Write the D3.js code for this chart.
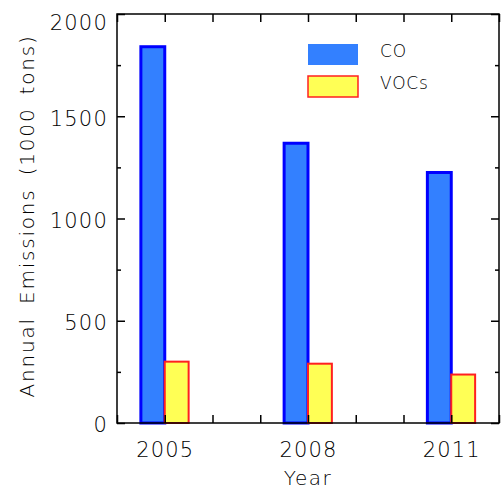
<!DOCTYPE html>
<html>
<head>
<meta charset="utf-8">
<script src="https://cdn.jsdelivr.net/npm/d3@7"></script>
<style>
  body { margin: 0; background: #fff; }
  text { font-family: "DejaVu Sans", sans-serif; font-weight: 300; fill: #000; }
</style>
</head>
<body>
<div id="container"></div>
<script>
var years = [2005, 2008, 2011],
    coValues = [1840, 1368, 1225],
    vocValues = [300, 290, 237],
    seriesNames = ['CO', 'VOCs'],
    yTicks = [0, 500, 1000, 1500, 2000];

// note: "top" is reserved on window, so use plotTop etc.
var width = 501,
    height = 490,
    plotLeft = 117,
    plotRight = 499,
    plotTop = 14,
    plotBottom = 423;

var svg = d3.select('#container')
    .append('svg')
    .attr('width', width)
    .attr('height', height);

var scaleX = d3.scaleLinear()
    .domain([2004, 2012])
    .range([plotLeft, plotRight]);

var scaleY = d3.scaleLinear()
    .domain([0, 2000])
    .range([plotBottom, plotTop]);

var barW = 0.5;

// CO bars (left of year), VOCs bars (right of year)
svg.selectAll('rect.co')
    .data(years)
    .enter()
    .append('rect')
    .attr('class', 'co')
    .attr('x', function(d) { return scaleX(d - barW); })
    .attr('y', function(d, i) { return scaleY(coValues[i]); })
    .attr('width', function(d) { return scaleX(d) - scaleX(d - barW); })
    .attr('height', function(d, i) { return plotBottom - scaleY(coValues[i]); })
    .style('fill', '#3380ff')
    .style('stroke', '#0000ff')
    .style('stroke-width', 3);

svg.selectAll('rect.voc')
    .data(years)
    .enter()
    .append('rect')
    .attr('class', 'voc')
    .attr('x', function(d) { return scaleX(d); })
    .attr('y', function(d, i) { return scaleY(vocValues[i]); })
    .attr('width', function(d) { return scaleX(d + barW) - scaleX(d); })
    .attr('height', function(d, i) { return plotBottom - scaleY(vocValues[i]); })
    .style('fill', '#ffff55')
    .style('stroke', '#ff2020')
    .style('stroke-width', 2);

// axes
var xTicks = d3.range(2004, 2013);
var yMinor = d3.range(0, 2001, 250).filter(function(v) { return v % 500 !== 0; });

function styleAxis(g) {
    g.select('.domain').remove();
    g.selectAll('line').style('stroke', '#000').style('stroke-width', 1.5);
    g.selectAll('text')
        .style('font-size', '21px')
        .style('letter-spacing', '1.2px')
        .style('fill', '#000');
}

svg.append('g')
    .attr('transform', 'translate(0,' + plotBottom + ')')
    .call(d3.axisTop(scaleX).tickValues(xTicks).tickSize(8).tickFormat(''))
    .call(styleAxis);
svg.append('g')
    .attr('transform', 'translate(0,' + plotBottom + ')')
    .call(d3.axisBottom(scaleX).tickValues(years).tickSize(0).tickPadding(19).tickFormat(d3.format('d')))
    .call(styleAxis);
svg.append('g')
    .attr('transform', 'translate(0,' + plotTop + ')')
    .call(d3.axisBottom(scaleX).tickValues(xTicks).tickSize(8).tickFormat(''))
    .call(styleAxis);

svg.append('g')
    .attr('transform', 'translate(' + plotLeft + ',0)')
    .call(d3.axisRight(scaleY).tickValues(yTicks).tickSize(8).tickFormat(''))
    .call(styleAxis);
svg.append('g')
    .attr('transform', 'translate(' + plotLeft + ',0)')
    .call(d3.axisRight(scaleY).tickValues(yMinor).tickSize(4).tickFormat(''))
    .call(styleAxis);
var yLabels = svg.append('g')
    .attr('transform', 'translate(' + plotLeft + ',0)')
    .call(d3.axisLeft(scaleY).tickValues(yTicks).tickSize(0).tickPadding(9).tickFormat(d3.format('d')))
    .call(styleAxis);
yLabels.selectAll('text')
    .attr('dy', function(d) { return d === 2000 ? '0.75em' : '0.42em'; });
svg.append('g')
    .attr('transform', 'translate(' + plotRight + ',0)')
    .call(d3.axisLeft(scaleY).tickValues(yTicks).tickSize(8).tickFormat(''))
    .call(styleAxis);
svg.append('g')
    .attr('transform', 'translate(' + plotRight + ',0)')
    .call(d3.axisLeft(scaleY).tickValues(yMinor).tickSize(4).tickFormat(''))
    .call(styleAxis);

// frame
svg.append('rect')
    .attr('x', plotLeft)
    .attr('y', plotTop)
    .attr('width', plotRight - plotLeft)
    .attr('height', plotBottom - plotTop)
    .style('fill', 'none')
    .style('stroke', '#000')
    .style('stroke-width', 1.5);

// axis titles
svg.append('text')
    .text('Year')
    .attr('x', (plotLeft + plotRight) / 2)
    .attr('y', 485)
    .attr('text-anchor', 'middle')
    .style('font-size', '20px')
    .style('letter-spacing', '1.5px');

svg.append('text')
    .text('Annual Emissions (1000 tons)')
    .attr('transform', 'translate(34,216) rotate(-90)')
    .attr('text-anchor', 'middle')
    .style('font-size', '20px')
    .style('letter-spacing', '1.8px')
    .style('word-spacing', '5px');

// legend
var legend = svg.append('g');
var legendStyles = [
    { fill: '#3380ff', stroke: 'none' },
    { fill: '#ffff55', stroke: '#ff2020' }
];
seriesNames.forEach(function(name, i) {
    var y0 = 44 + i * 32;
    legend.append('rect')
        .attr('x', 308)
        .attr('y', y0)
        .attr('width', 50)
        .attr('height', 21)
        .style('fill', legendStyles[i].fill)
        .style('stroke', legendStyles[i].stroke)
        .style('stroke-width', 1.5);
    legend.append('text')
        .text(name)
        .attr('x', 380)
        .attr('y', y0 + 7.5)
        .attr('dy', '0.35em')
        .style('font-size', '17px')
        .style('letter-spacing', '0.8px');
});
</script>
</body>
</html>
